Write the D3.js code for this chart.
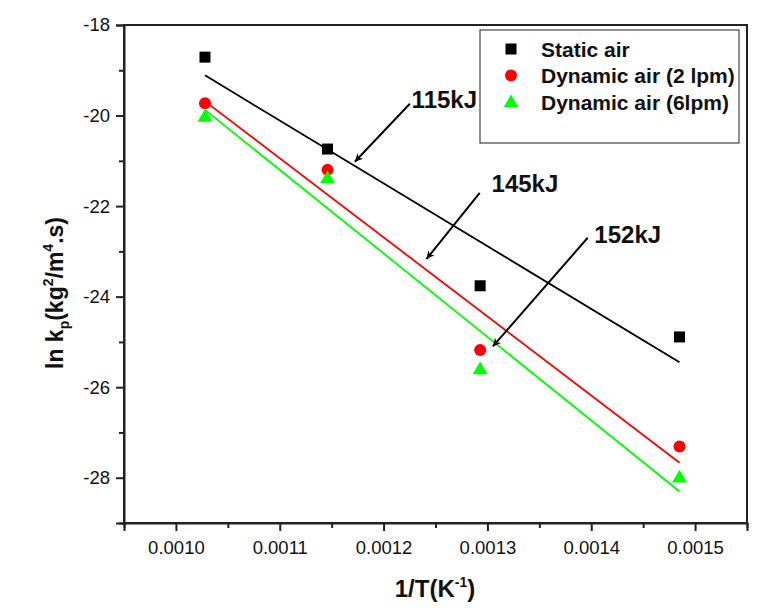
<!DOCTYPE html>
<html>
<head>
<meta charset="utf-8">
<script src="https://cdn.jsdelivr.net/npm/d3@7"></script>
<style>
  html, body { margin: 0; padding: 0; background: #ffffff; }
  svg { display: block; font-family: "Liberation Sans", Arial, sans-serif; }
</style>
</head>
<body>
<svg id="chart" width="782" height="613"></svg>
<script>
// ---- data ----
const invT = [0.001028, 0.001146, 0.001293, 0.001485];
const staticAir = [-18.71, -20.74, -23.76, -24.89];
const dynamic2 = [-19.73, -21.20, -25.18, -27.31];
const dynamic6 = [-20.02, -21.38, -25.60, -27.99];
const seriesNames = ["Static air", "Dynamic air (2 lpm)", "Dynamic air (6lpm)"];
const seriesColors = ["#000000", "#ff0000", "#00ff00"];
const seriesShapes = ["square", "circle", "triangle"];
const xTicks = [0.0010, 0.0011, 0.0012, 0.0013, 0.0014, 0.0015];
const xMinorTicks = [0.00095, 0.00105, 0.00115, 0.00125, 0.00135, 0.00145, 0.00155];
const yTicks = [-18, -20, -22, -24, -26, -28];
const yMinorTicks = [-19, -21, -23, -25, -27, -29];
const annLabels = ["115kJ", "145kJ", "152kJ"];
const annText = [[0.001227, -19.83], [0.001304, -21.69], [0.001403, -22.81]];
const annFrom = [[0.0012253, -19.74], [0.0012926, -21.71], [0.0013966, -22.70]];
const annTo = [[0.0011723, -21.02], [0.0012413, -23.17], [0.0013052, -25.10]];

const series = seriesNames.map((n, i) => ({
  name: n, color: seriesColors[i], shape: seriesShapes[i],
  values: [staticAir, dynamic2, dynamic6][i]
}));

// ---- layout ----
const svg = d3.select("#chart");
const m = {left: 124, top: 25, right: 35, bottom: 90};
const W = 782 - m.left - m.right, H = 613 - m.top - m.bottom;
const x = d3.scaleLinear().domain([0.00095, 0.00155]).range([0, W]);
const y = d3.scaleLinear().domain([-29, -18]).range([H, 0]);
const g = svg.append("g").attr("transform", `translate(${m.left},${m.top})`);

const axisColor = "#222";
// frame
g.append("rect").attr("x", 0).attr("y", 0).attr("width", W).attr("height", H)
  .attr("fill", "none").attr("stroke", axisColor).attr("stroke-width", 2);

// x axis
g.append("g").attr("transform", `translate(0,${H})`)
  .call(d3.axisBottom(x).tickValues(xTicks).tickFormat(d3.format(".4f")).tickSize(8).tickPadding(10));
g.append("g").attr("transform", `translate(0,${H})`)
  .call(d3.axisBottom(x).tickValues(xMinorTicks).tickFormat("").tickSize(5))
  .call(a => a.select(".domain").remove());
// y axis
g.append("g")
  .call(d3.axisLeft(y).tickValues(yTicks).tickFormat(d => d).tickSize(8).tickPadding(6));
g.append("g")
  .call(d3.axisLeft(y).tickValues(yMinorTicks).tickFormat("").tickSize(5))
  .call(a => a.select(".domain").remove());

g.selectAll(".domain").attr("stroke", axisColor).attr("stroke-width", 2);
g.selectAll(".tick line").attr("stroke", axisColor).attr("stroke-width", 2);
g.selectAll(".tick text").attr("fill", "#111").style("font-size", "18.5px")
  .style("font-family", "'Liberation Sans', Arial, sans-serif");

// regression lines (least squares from data)
function fit(xs, ys) {
  const mx = d3.mean(xs), my = d3.mean(ys);
  const sxy = d3.sum(xs, (v, i) => (v - mx) * (ys[i] - my));
  const sxx = d3.sum(xs, v => (v - mx) * (v - mx));
  const b = sxy / sxx;
  return v => my + b * (v - mx);
}
const xMin = d3.min(invT), xMax = d3.max(invT);
series.forEach(s => {
  const f = fit(invT, s.values);
  g.append("line")
    .attr("x1", x(xMin)).attr("y1", y(f(xMin)))
    .attr("x2", x(xMax)).attr("y2", y(f(xMax)))
    .attr("stroke", s.color).attr("stroke-width", 1.8);
});

// markers
function drawMarker(sel, shape, color, cx, cy) {
  if (shape === "square") {
    sel.append("rect").attr("x", cx - 5.5).attr("y", cy - 5.5).attr("width", 11).attr("height", 11).attr("fill", color);
  } else if (shape === "circle") {
    sel.append("circle").attr("cx", cx).attr("cy", cy).attr("r", 6).attr("fill", color);
  } else {
    sel.append("path").attr("d", d3.symbol(d3.symbolTriangle, 95)()).attr("transform", `translate(${cx},${cy + 1})`).attr("fill", color);
  }
}
series.forEach(s => {
  s.values.forEach((v, i) => drawMarker(g, s.shape, s.color, x(invT[i]), y(v)));
});

// annotations
const defs = svg.append("defs");
defs.append("marker").attr("id", "arrow").attr("viewBox", "0 0 10 10")
  .attr("refX", 10).attr("refY", 5).attr("markerWidth", 12).attr("markerHeight", 8)
  .attr("markerUnits", "userSpaceOnUse").attr("orient", "auto")
  .append("path").attr("d", "M0,0 L10,5 L0,10 L3,5 Z").attr("fill", "#000");
annLabels.forEach((lab, i) => {
  g.append("line")
    .attr("x1", x(annFrom[i][0])).attr("y1", y(annFrom[i][1]))
    .attr("x2", x(annTo[i][0])).attr("y2", y(annTo[i][1]))
    .attr("stroke", "#000").attr("stroke-width", 2).attr("marker-end", "url(#arrow)");
  g.append("text").attr("x", x(annText[i][0])).attr("y", y(annText[i][1]))
    .attr("font-size", 24).attr("font-weight", "bold").attr("fill", "#111").text(lab);
});

// legend
const lg = g.append("g").attr("transform", `translate(${480 - m.left},${30 - m.top})`);
lg.append("rect").attr("width", 259).attr("height", 113).attr("fill", "#fff")
  .attr("stroke", "#444").attr("stroke-width", 1.2);
series.forEach((s, i) => {
  const cy = 19 + i * 26.5;
  drawMarker(lg, s.shape, s.color, 31, cy);
  lg.append("text").attr("x", 61).attr("y", cy + 7.5).attr("font-size", 21)
    .attr("font-weight", "bold").attr("fill", "#111").text(s.name);
});

// axis titles
const xt = svg.append("text").attr("x", 435).attr("y", 597).attr("text-anchor", "middle")
  .attr("font-size", 24).attr("font-weight", "bold").attr("fill", "#111");
xt.append("tspan").text("1/T(K");
xt.append("tspan").attr("font-size", 14).attr("dy", -10).text("-1");
xt.append("tspan").attr("dy", 10).text(")");

const yt = svg.append("text").attr("transform", "translate(63,293) rotate(-90)")
  .attr("text-anchor", "middle").attr("font-size", 23).attr("font-weight", "bold").attr("fill", "#111");
yt.append("tspan").text("ln k");
yt.append("tspan").attr("font-size", 14).attr("dy", 6).text("p");
yt.append("tspan").attr("dy", -6).text("(kg");
yt.append("tspan").attr("font-size", 14).attr("dy", -10).text("2");
yt.append("tspan").attr("dy", 10).text("/m");
yt.append("tspan").attr("font-size", 14).attr("dy", -10).text("4");
yt.append("tspan").attr("dy", 10).text(".s)");
</script>
</body>
</html>
